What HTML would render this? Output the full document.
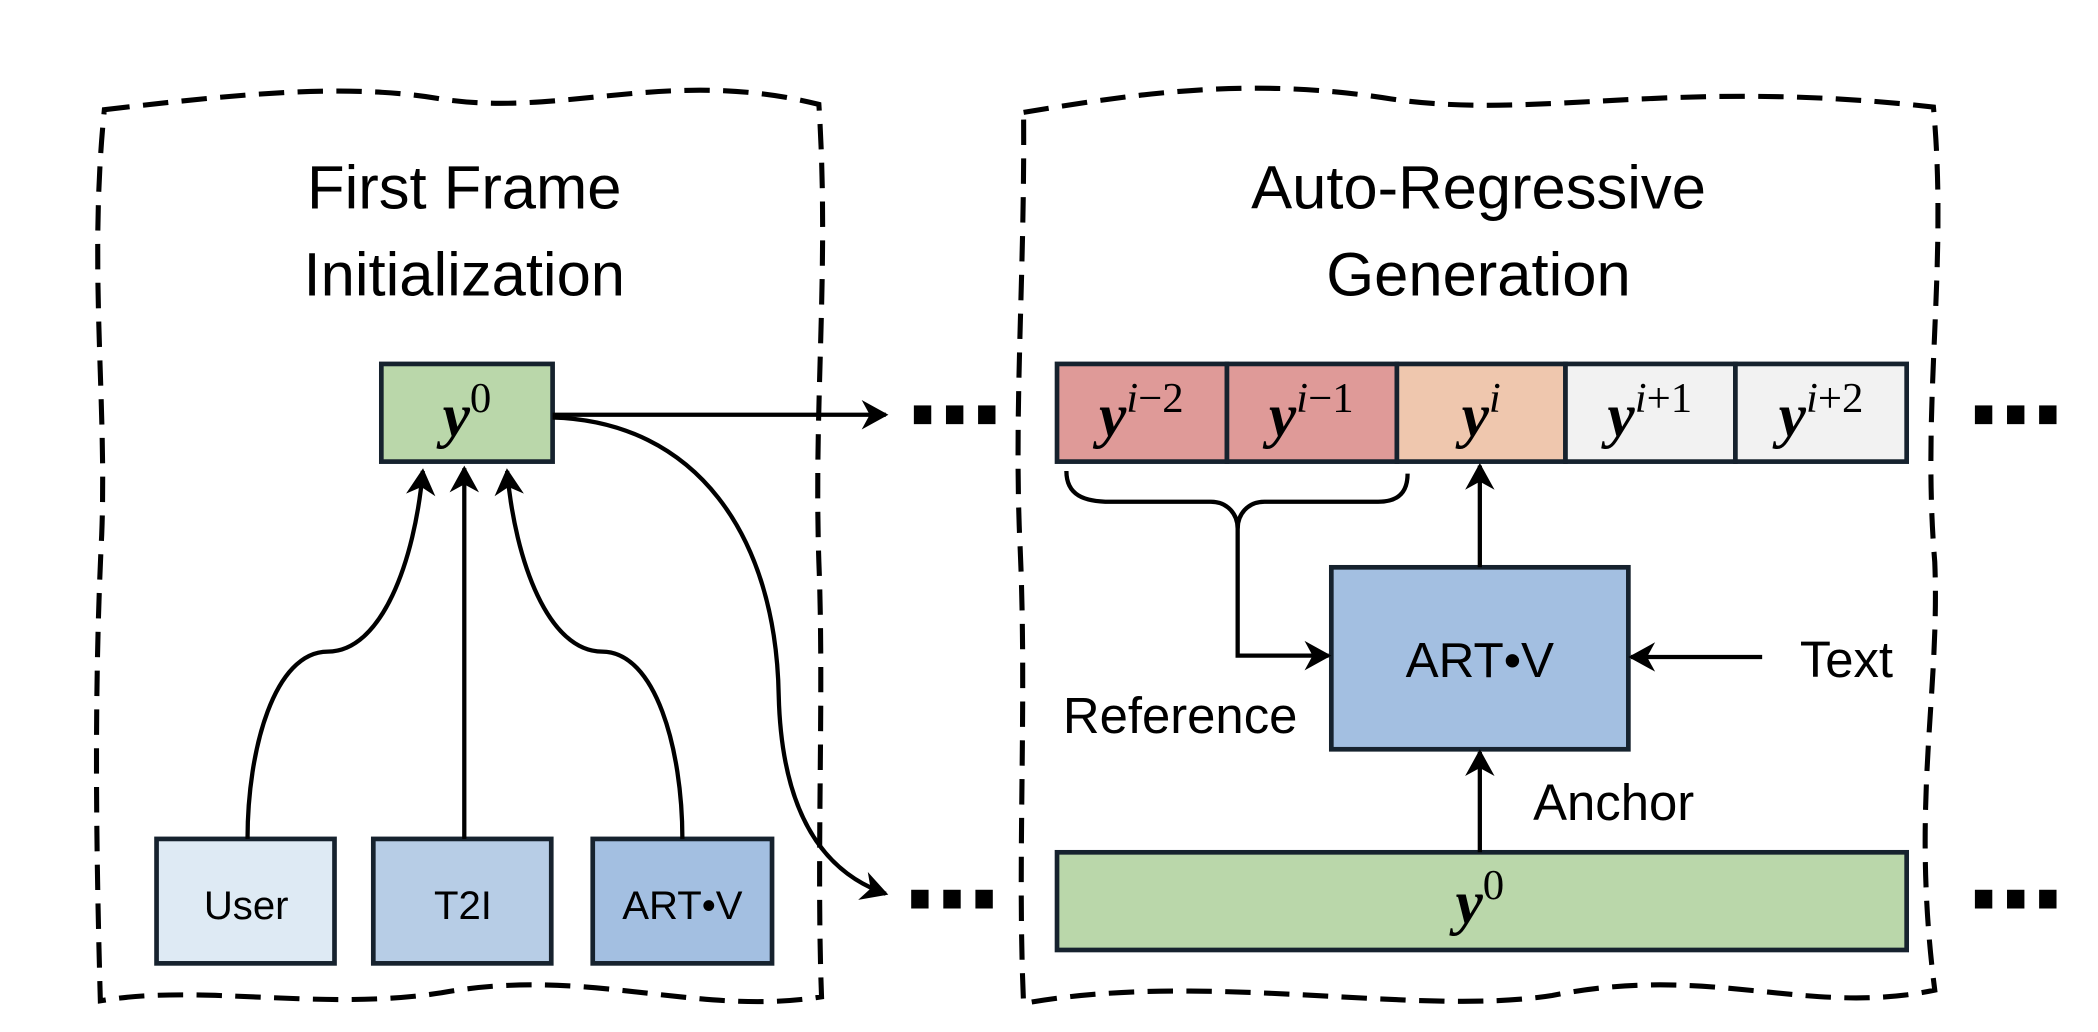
<!DOCTYPE html>
<html><head><meta charset="utf-8"><style>
html,body{margin:0;padding:0;background:#fff;}
svg{display:block;}
.t{font-family:"Liberation Sans",sans-serif;fill:#000;}
.m{font-family:"Liberation Serif",serif;fill:#000;}
</style></head><body>
<svg width="2098" height="1032" viewBox="0 0 1568 771.3" preserveAspectRatio="none" xmlns="http://www.w3.org/2000/svg">
<defs>
<marker id="a" viewBox="-20 -12 24 24" markerWidth="24" markerHeight="24" refX="0" refY="0" orient="auto" markerUnits="userSpaceOnUse">
<path d="M2,0 L-18,-11 L-12,0 L-18,11 Z" fill="#000"/>
</marker>
</defs>
<g fill="none" stroke="#000" stroke-width="3.8" stroke-dasharray="19 10">
<path d="M78,82 C180,70 260,62 330,74 C420,88 500,50 612,78 C620,200 608,300 612,420 C616,520 610,640 614,745 C520,760 440,722 330,742 C240,756 150,735 75,748 C72,640 70,520 76,400 C80,300 66,200 78,82 Z"/>
<path d="M765,84 C860,68 940,58 1040,74 C1150,90 1250,58 1445,80 C1456,200 1436,300 1446,420 C1450,520 1428,600 1446,740 C1350,760 1280,720 1160,744 C1060,760 900,725 765,750 C760,640 768,520 762,400 C758,300 766,200 765,84 Z"/>
</g>
<text class="t" x="347" y="156" font-size="46" text-anchor="middle">First Frame</text>
<text class="t" x="347" y="221" font-size="46" text-anchor="middle">Initialization</text>
<text class="t" x="1105" y="156" font-size="46" text-anchor="middle">Auto-Regressive</text>
<text class="t" x="1105" y="221" font-size="46" text-anchor="middle">Generation</text>

<g stroke="#16222e" stroke-width="3.5">
<rect x="285" y="272" width="128" height="73" fill="#bad7aa"/>
<rect x="117" y="627" width="133" height="93" fill="#deeaf4"/>
<rect x="279" y="627" width="133" height="93" fill="#b7cde6"/>
<rect x="443" y="627" width="134" height="93" fill="#a3bfe1"/>
<rect x="790" y="272" width="127" height="73" fill="#df9a98"/>
<rect x="917" y="272" width="127" height="73" fill="#df9a98"/>
<rect x="1044" y="272" width="126" height="73" fill="#efc7ae"/>
<rect x="1170" y="272" width="127" height="73" fill="#f2f2f2"/>
<rect x="1297" y="272" width="128" height="73" fill="#f2f2f2"/>
<rect x="995" y="424" width="222" height="136" fill="#a3bfe1"/>
<rect x="790" y="637" width="635" height="73" fill="#bad7aa"/>
</g>

<text class="t" x="184" y="687" font-size="30" text-anchor="middle">User</text>
<text class="t" x="346" y="687" font-size="30" text-anchor="middle">T2I</text>
<text class="t" x="510" y="687" font-size="30" text-anchor="middle">ART•V</text>
<text class="t" x="1106" y="506" font-size="37" text-anchor="middle">ART•V</text>
<text class="t" x="1380" y="506" font-size="38" text-anchor="middle">Text</text>
<text class="t" x="882" y="548" font-size="38" text-anchor="middle">Reference</text>
<text class="t" x="1206" y="613" font-size="38" text-anchor="middle">Anchor</text>

<g class="m">
<text x="349" y="326" font-size="46" text-anchor="middle"><tspan font-weight="bold" font-style="italic">y</tspan><tspan font-size="32" dy="-18">0</tspan></text>
<text x="1106" y="690" font-size="46" text-anchor="middle"><tspan font-weight="bold" font-style="italic">y</tspan><tspan font-size="32" dy="-18">0</tspan></text>
<text x="853" y="326" font-size="46" text-anchor="middle"><tspan font-weight="bold" font-style="italic">y</tspan><tspan font-size="32" dy="-18" font-style="italic">i</tspan><tspan font-size="32">−2</tspan></text>
<text x="980" y="326" font-size="46" text-anchor="middle"><tspan font-weight="bold" font-style="italic">y</tspan><tspan font-size="32" dy="-18" font-style="italic">i</tspan><tspan font-size="32">−1</tspan></text>
<text x="1107" y="326" font-size="46" text-anchor="middle"><tspan font-weight="bold" font-style="italic">y</tspan><tspan font-size="32" dy="-18" font-style="italic">i</tspan></text>
<text x="1233" y="326" font-size="46" text-anchor="middle"><tspan font-weight="bold" font-style="italic">y</tspan><tspan font-size="32" dy="-18" font-style="italic">i</tspan><tspan font-size="32">+1</tspan></text>
<text x="1361" y="326" font-size="46" text-anchor="middle"><tspan font-weight="bold" font-style="italic">y</tspan><tspan font-size="32" dy="-18" font-style="italic">i</tspan><tspan font-size="32">+2</tspan></text>
</g>

<g fill="none" stroke="#000" stroke-width="3.2">
<path d="M185,627 C185,560 205,487 245,487 C285,487 310,420 316,352" marker-end="url(#a)"/>
<path d="M347,627 L347,350" marker-end="url(#a)"/>
<path d="M510,627 C510,560 490,487 450,487 C410,487 385,420 379,352" marker-end="url(#a)"/>
<path d="M413,310 L662,310" marker-end="url(#a)"/>
<path d="M413,312 C520,315 580,400 582,520 C584,600 610,650 662,668" marker-end="url(#a)"/>
<path d="M797,352 C797,370 810,375 830,375 L905,375 C918,375 925,385 925,395 C925,385 932,375 945,375 L1030,375 C1045,375 1052,368 1052,354"/>
<path d="M925,393 L925,490 L993,490" marker-end="url(#a)"/>
<path d="M1106,424 L1106,348" marker-end="url(#a)"/>
<path d="M1317,491 L1219,491" marker-end="url(#a)"/>
<path d="M1106,637 L1106,562" marker-end="url(#a)"/>
</g>

<g fill="#000">
<rect x="683" y="303" width="13" height="14"/><rect x="707" y="303" width="13" height="14"/><rect x="731" y="303" width="13" height="14"/>
<rect x="681" y="665" width="13" height="14"/><rect x="705" y="665" width="13" height="14"/><rect x="729" y="665" width="13" height="14"/>
<rect x="1476" y="303" width="13" height="14"/><rect x="1500" y="303" width="13" height="14"/><rect x="1524" y="303" width="13" height="14"/>
<rect x="1476" y="665" width="13" height="14"/><rect x="1500" y="665" width="13" height="14"/><rect x="1524" y="665" width="13" height="14"/>
</g>
</svg>
</body></html>
